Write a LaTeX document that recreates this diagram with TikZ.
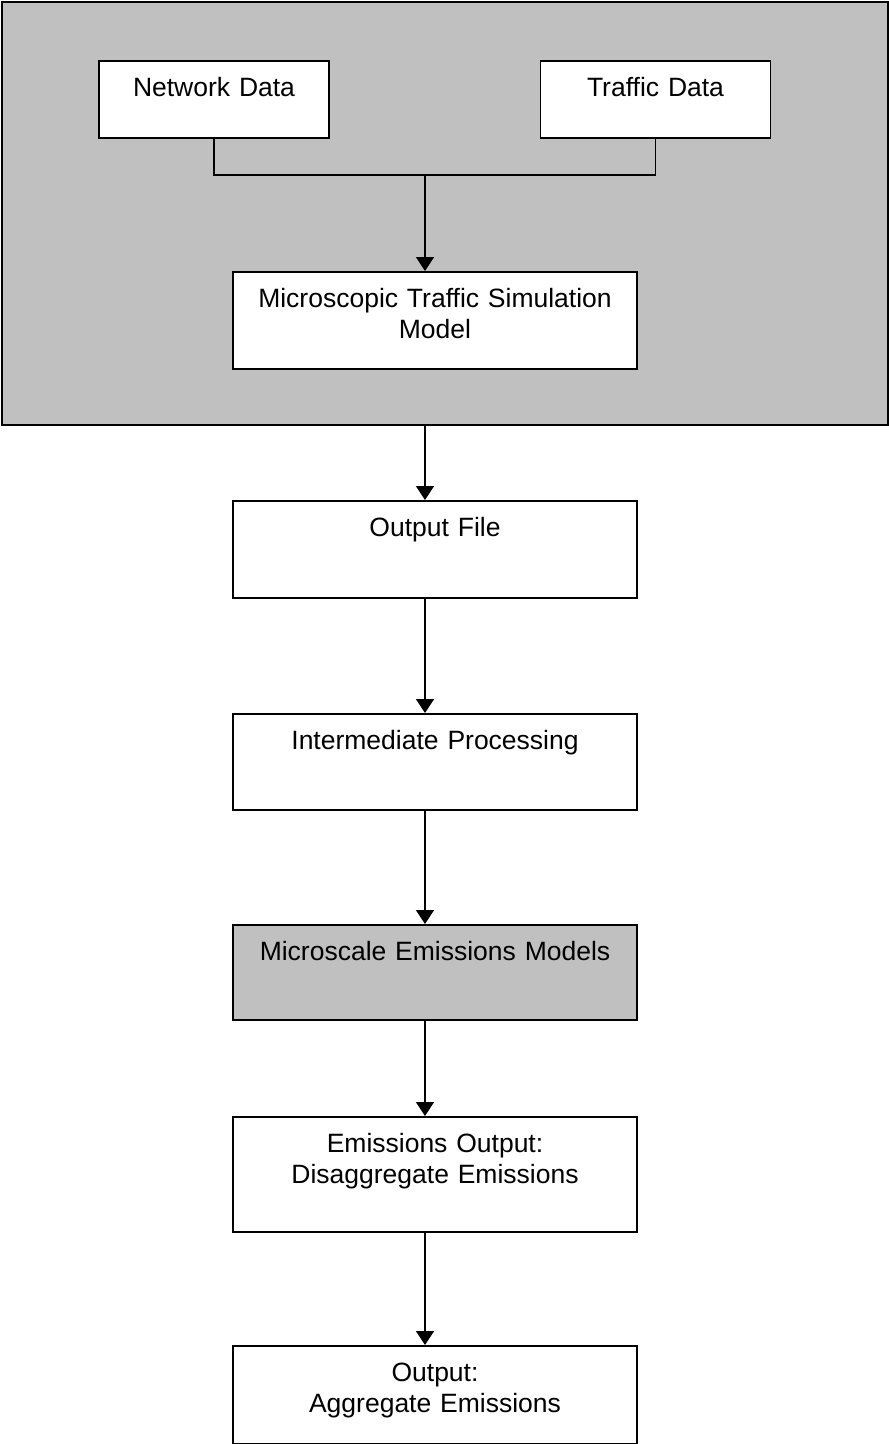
\documentclass[tikz,border=0pt]{standalone}
\usepackage{fontspec}
\setmainfont{Liberation Sans}
\usepackage{tikz}
\usetikzlibrary{arrows.meta,positioning,calc}
\definecolor{Panel}{HTML}{C0C0C0}
\tikzset{
  stage/.style={draw,fill=white,line width=1.6pt,inner sep=0pt,anchor=north,
    text width=404pt,align=center,text height=36pt,text depth=#1,
    font=\fontsize{26.5}{30.5}\selectfont},
  stage/.default=61pt,
  source/.style={stage=41pt,text width=230pt},
  graystage/.style={stage=#1,fill=Panel},
  graystage/.default=59pt,
  panel/.style={draw,fill=Panel,line width=2pt,inner sep=0pt,anchor=north west,
    minimum width=886pt,minimum height=423pt},
  link/.style={line width=1.5pt},
  arrow/.style={link,-{Triangle[length=14pt,width=18pt]}}
}
\begin{document}
\begin{tikzpicture}[x=1pt,y=-1pt]
  \useasboundingbox (0,0) rectangle (889,1444);
  % simulation part
  \node[panel] (panel) at (1,1) {};
  \node[source] (net) at (214,60) {Network Data};
  \node[source] (traf) at (655.5,60) {Traffic Data};
  \node[stage=61pt] (sim) at (435,271) {Microscopic Traffic Simulation\\Model};
  \coordinate (join) at (425,175);
  \draw[link] (net.south) |- (join) -| (traf.south);
  \draw[arrow] (join) -- (sim.north -| join);
  % processing chain
  \node[stage] (ofile) at (435,500) {Output File};
  \node[stage=60pt] (inter) at (435,713) {Intermediate Processing};
  \node[graystage] (emod) at (435,924) {Microscale Emissions Models};
  \node[stage=79pt] (eout) at (435,1116) {Emissions Output:\\Disaggregate Emissions};
  \node[stage=62pt] (agg) at (435,1345) {Output:\\Aggregate Emissions};
  \draw[arrow] (panel.south -| join) -- (ofile.north -| join);
  \draw[arrow] (ofile.south -| join) -- (inter.north -| join);
  \draw[arrow] (inter.south -| join) -- (emod.north -| join);
  \draw[arrow] (emod.south -| join) -- (eout.north -| join);
  \draw[arrow] (eout.south -| join) -- (agg.north -| join);
\end{tikzpicture}
\end{document}
